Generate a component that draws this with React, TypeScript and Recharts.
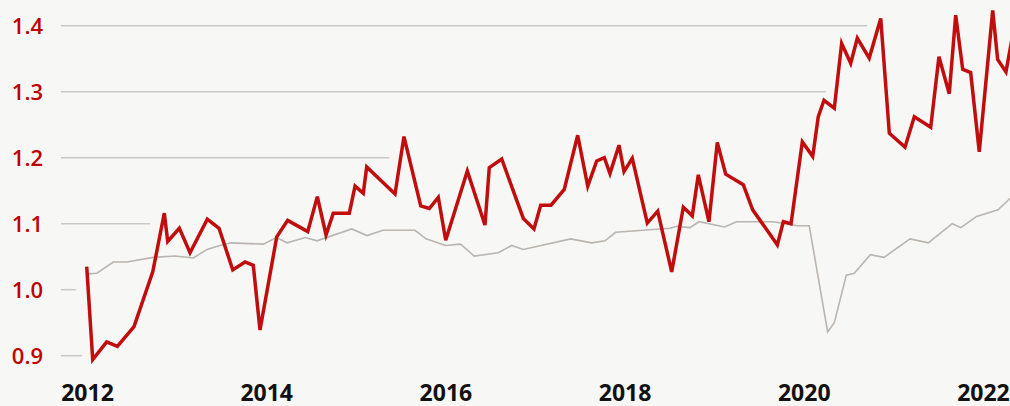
import { LineChart, Line, XAxis, YAxis, ReferenceLine } from "recharts";

// decimal years
const redDates = [
  2011.991, 2012.058, 2012.214, 2012.333, 2012.519, 2012.728, 2012.857, 2012.895, 2013.025, 2013.144,
  2013.337, 2013.468, 2013.621, 2013.758, 2013.85, 2013.925, 2014.112, 2014.234, 2014.458, 2014.565,
  2014.662, 2014.743, 2014.922, 2014.986, 2015.078, 2015.116, 2015.432, 2015.532, 2015.719, 2015.815,
  2015.915, 2015.998, 2016.239, 2016.436, 2016.484, 2016.623, 2016.864, 2016.983, 2017.058, 2017.173,
  2017.321, 2017.471, 2017.583, 2017.683, 2017.768, 2017.831, 2017.932, 2017.988, 2018.08, 2018.248,
  2018.364, 2018.52, 2018.65, 2018.75, 2018.817, 2018.936, 2019.029, 2019.123, 2019.319, 2019.424,
  2019.699, 2019.766, 2019.852, 2019.978, 2020.094, 2020.156, 2020.22, 2020.335, 2020.417, 2020.518,
  2020.592, 2020.725, 2020.853, 2020.949, 2021.124, 2021.228, 2021.411, 2021.503, 2021.618, 2021.69,
  2021.768, 2021.857, 2021.953, 2022.103, 2022.158, 2022.251, 2022.318,
];
const redValues = [
  1.035, 0.894, 0.921, 0.914, 0.944, 1.027, 1.116, 1.073, 1.093, 1.056,
  1.107, 1.093, 1.03, 1.042, 1.037, 0.939, 1.08, 1.105, 1.088, 1.141,
  1.083, 1.116, 1.116, 1.157, 1.146, 1.186, 1.145, 1.232, 1.127, 1.123,
  1.14, 1.075, 1.18, 1.098, 1.185, 1.198, 1.108, 1.092, 1.128, 1.128,
  1.152, 1.234, 1.157, 1.195, 1.2, 1.176, 1.219, 1.179, 1.199, 1.101,
  1.119, 1.027, 1.125, 1.112, 1.174, 1.103, 1.223, 1.175, 1.159, 1.121,
  1.068, 1.103, 1.1, 1.224, 1.202, 1.262, 1.287, 1.275, 1.373, 1.343,
  1.381, 1.351, 1.411, 1.237, 1.216, 1.262, 1.246, 1.353, 1.297, 1.416,
  1.334, 1.329, 1.209, 1.423, 1.349, 1.33, 1.38,
];

const grayDates = [
  2011.998, 2012.103, 2012.288, 2012.438, 2012.734, 2012.977, 2013.181, 2013.334, 2013.479, 2013.602,
  2013.962, 2014.109, 2014.227, 2014.433, 2014.561, 2014.949, 2015.119, 2015.298, 2015.655, 2015.778,
  2015.996, 2016.163, 2016.316, 2016.585, 2016.734, 2016.864, 2017.393, 2017.627, 2017.776, 2017.893,
  2018.501, 2018.576, 2018.724, 2018.827, 2019.109, 2019.245, 2019.651, 2019.796, 2019.924, 2020.055,
  2020.261, 2020.335, 2020.469, 2020.558, 2020.737, 2020.89, 2021.18, 2021.384, 2021.651, 2021.747,
  2021.924, 2022.162, 2022.318,
];
const grayValues = [
  1.024, 1.025, 1.042, 1.042, 1.049, 1.051, 1.048, 1.061, 1.067, 1.071,
  1.069, 1.079, 1.071, 1.079, 1.074, 1.092, 1.082, 1.09, 1.09, 1.077,
  1.067, 1.069, 1.051, 1.056, 1.067, 1.061, 1.077, 1.071, 1.074, 1.087,
  1.093, 1.096, 1.094, 1.103, 1.095, 1.103, 1.103, 1.1, 1.097, 1.097,
  0.936, 0.95, 1.022, 1.025, 1.053, 1.049, 1.077, 1.071, 1.1, 1.094,
  1.111, 1.121, 1.141,
];

const yTicks = [0.9, 1.0, 1.1, 1.2, 1.3, 1.4];
const xTicks = [2012, 2014, 2016, 2018, 2020, 2022];
// where each horizontal gridline stops (decimal year)
const gridEnds = [2011.94, 2011.87, 2012.7, 2015.37, 2020.24, 2020.7];

const xMin = 2011.704;
const xMax = 2022.296;

const redData = redDates.map((t, i) => ({ t, v: redValues[i] }));
const grayData = grayDates.map((t, i) => ({ t, v: grayValues[i] }));

export default function App() {
  return (
    <div
      style={{
        position: "absolute",
        left: 0,
        top: 0,
        width: 1010,
        height: 406,
        overflow: "hidden",
        background: "#f7f7f5",
      }}
    >
      <LineChart width={1010} height={406} margin={{ top: 0, right: 0, bottom: 0, left: 0 }}>
        <XAxis
          dataKey="t"
          type="number"
          domain={[xMin, xMax]}
          allowDataOverflow
          ticks={xTicks}
          interval={0}
          height={36}
          axisLine={false}
          tickLine={false}
          tickSize={0}
          tickMargin={15}
          tick={{ fill: "#111", fontSize: 23, fontWeight: 700, fontFamily: "Open Sans" }}
        />
        <YAxis
          type="number"
          domain={[0.87833, 1.43894]}
          allowDataOverflow
          ticks={yTicks}
          interval={0}
          width={61}
          axisLine={false}
          tickLine={false}
          tickSize={0}
          tickMargin={18}
          tickFormatter={(v) => v.toFixed(1)}
          tick={{ fill: "#c00000", fontSize: 22, fontWeight: 600, fontFamily: "Open Sans" }}
        />
        {yTicks.map((y, i) => (
          <ReferenceLine
            key={y}
            segment={[
              { x: xMin, y },
              { x: gridEnds[i], y },
            ]}
            stroke="#c9c9c5"
            strokeWidth={1.5}
          />
        ))}
        <Line
          data={grayData}
          dataKey="v"
          stroke="#b9b5b0"
          strokeWidth={1.6}
          dot={false}
          isAnimationActive={false}
        />
        <Line
          data={redData}
          dataKey="v"
          stroke="#c00d0d"
          strokeWidth={3.5}
          strokeLinejoin="miter"
          dot={false}
          isAnimationActive={false}
        />
      </LineChart>
    </div>
  );
}
